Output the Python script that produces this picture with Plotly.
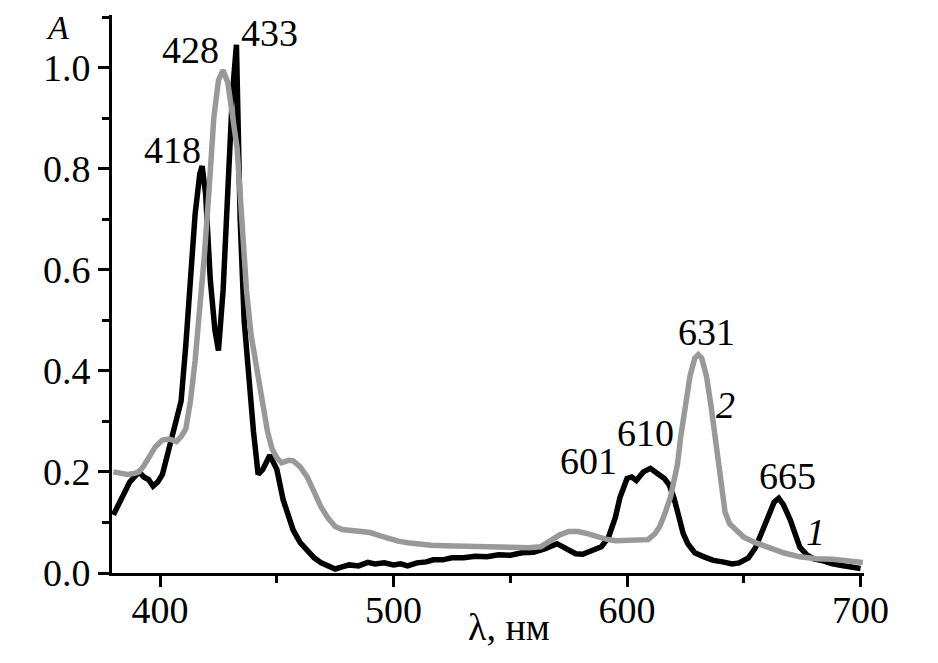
import plotly.graph_objects as go

# Curve 1 (black)
lam1 = [380, 382, 384, 387, 389, 391, 393, 395, 397, 399, 401, 403, 405, 407, 409, 411, 413, 415, 417, 418,
        419.5, 421.5, 423.5, 425, 427, 429, 431, 432.7, 434.3, 436, 438, 440, 442, 444, 447, 450, 452.7, 455,
        457, 460, 463, 466, 469, 472, 475, 478, 481, 485, 489, 492, 496, 500, 503, 506, 510, 514, 517, 521,
        525, 530, 535, 540, 545, 550, 555, 560, 565, 570, 574, 578, 581, 585, 589, 592, 595, 597, 600, 602,
        604, 607, 610, 613, 616, 618, 620, 622, 624, 626, 629, 633, 637, 641, 645, 648, 652, 655, 658, 661,
        663, 665, 667, 670, 672, 674, 677, 680, 684, 688, 692, 696, 700]
a1 = [0.115, 0.135, 0.15, 0.18, 0.19, 0.2, 0.19, 0.185, 0.172, 0.18, 0.195, 0.23, 0.265, 0.305, 0.34, 0.45,
      0.57, 0.71, 0.79, 0.805, 0.75, 0.58, 0.48, 0.44, 0.56, 0.75, 0.95, 1.045, 0.7, 0.5, 0.38, 0.28, 0.195,
      0.205, 0.233, 0.205, 0.145, 0.11, 0.085, 0.06, 0.045, 0.03, 0.02, 0.014, 0.008, 0.012, 0.016, 0.014,
      0.021, 0.018, 0.02, 0.016, 0.018, 0.014, 0.02, 0.022, 0.026, 0.026, 0.03, 0.03, 0.033, 0.032, 0.036,
      0.035, 0.04, 0.041, 0.048, 0.058, 0.048, 0.038, 0.037, 0.045, 0.052, 0.07, 0.11, 0.15, 0.187, 0.19,
      0.183, 0.2, 0.207, 0.197, 0.187, 0.175, 0.15, 0.115, 0.079, 0.058, 0.04, 0.032, 0.025, 0.022, 0.018,
      0.02, 0.03, 0.05, 0.085, 0.12, 0.14, 0.148, 0.135, 0.104, 0.075, 0.051, 0.036, 0.028, 0.024, 0.018,
      0.015, 0.012, 0.009]

# Curve 2 (grey)
lam2 = [380, 383, 386, 389, 391, 393, 396, 398, 401, 404, 407, 409, 411, 413, 415, 417, 419, 421, 423, 425,
        427, 429, 431, 433, 435, 437, 439, 441.5, 444, 446, 448, 450, 452, 455, 457, 460, 463, 466, 469, 472,
        475, 478, 482, 486, 490, 494, 498, 502, 506, 510, 516, 522, 530, 540, 550, 558, 563, 567, 571, 575,
        579, 583, 587, 591, 595, 600, 605, 609, 612, 614, 616, 618.6, 620, 621.6, 623, 625, 627, 629, 630.5,
        632, 634, 636, 638, 640, 642, 644, 647, 650, 655, 660, 667, 674, 681, 688, 695, 701]
a2 = [0.2, 0.197, 0.195, 0.197, 0.2, 0.212, 0.237, 0.25, 0.263, 0.265, 0.26, 0.27, 0.285, 0.34, 0.42, 0.52,
      0.63, 0.76, 0.9, 0.975, 0.995, 0.97, 0.91, 0.84, 0.7, 0.56, 0.47, 0.4, 0.33, 0.28, 0.245, 0.228, 0.218,
      0.223, 0.222, 0.21, 0.19, 0.16, 0.13, 0.108, 0.092, 0.086, 0.084, 0.083, 0.08, 0.074, 0.068, 0.063,
      0.06, 0.057, 0.055, 0.054, 0.053, 0.052, 0.051, 0.05, 0.052, 0.063, 0.075, 0.082, 0.082, 0.078, 0.072,
      0.067, 0.064, 0.064, 0.064, 0.066, 0.078, 0.092, 0.115, 0.15, 0.18, 0.215, 0.27, 0.34, 0.39, 0.425,
      0.432, 0.425, 0.39, 0.33, 0.26, 0.18, 0.12, 0.097, 0.082, 0.071, 0.06, 0.051, 0.04, 0.032, 0.028,
      0.027, 0.024, 0.021]

# Peak labels
peak_labels = ["418", "428", "433", "601", "610", "631", "665"]
curve_labels = ["1", "2"]

FONT = "Liberation Serif, Times New Roman, serif"

fig = go.Figure()
fig.add_trace(go.Scatter(x=lam1, y=a1, mode="lines", line=dict(color="black", width=5.5), showlegend=False))
fig.add_trace(go.Scatter(x=lam2, y=a2, mode="lines", line=dict(color="#999999", width=5.5), showlegend=False))

label_pos = {
    "418": (405.1, 0.837),
    "428": (412.9, 1.035),
    "433": (446.7, 1.069),
    "601": (583.5, 0.221),
    "610": (607.9, 0.277),
    "631": (634.0, 0.477),
    "665": (668.7, 0.191),
}
ann = []
for lab in peak_labels:
    x, y = label_pos[lab]
    ann.append(dict(x=x, y=y, text=lab, showarrow=False, xref="x", yref="y",
                    xanchor="center", yanchor="middle",
                    font=dict(family=FONT, size=38, color="black")))
curve_pos = {"1": (680.7, 0.081), "2": (642.2, 0.332)}
for lab in curve_labels:
    x, y = curve_pos[lab]
    ann.append(dict(x=x, y=y, text="<i>" + lab + "</i>", showarrow=False, xref="x", yref="y",
                    xanchor="center", yanchor="middle",
                    font=dict(family=FONT, size=38, color="black")))
ann.append(dict(x=-0.0731, y=0.977, text="<i>A</i>", showarrow=False, xref="paper", yref="paper",
                xanchor="center", yanchor="middle",
                font=dict(family=FONT, size=34, color="black")))
ann.append(dict(x=0.528, y=-0.0968, text="λ, нм", showarrow=False, xref="paper", yref="paper",
                xanchor="center", yanchor="middle",
                font=dict(family=FONT, size=38, color="black")))

# page body has an 8 px margin; compensate so the plot area lands where the reference has it
fig.update_layout(
    width=930, height=655,
    margin=dict(l=104, r=74, t=7, b=90, autoexpand=False),
    plot_bgcolor="white", paper_bgcolor="white",
    font=dict(family=FONT, size=38, color="black"),
    annotations=ann,
)
fig.update_xaxes(
    range=[379.4, 701.5], showgrid=False, zeroline=False,
    showline=True, linecolor="black", linewidth=3,
    ticks="outside", ticklen=11, tickwidth=3, tickcolor="black",
    tick0=0, dtick=100, ticklabelstandoff=-10,
    minor=dict(ticks="outside", ticklen=7, tickwidth=3, tickcolor="black", dtick=50),
    tickfont=dict(family=FONT, size=38, color="black"),
)
fig.update_yaxes(
    range=[0, 1.104], showgrid=False, zeroline=False,
    showline=True, linecolor="black", linewidth=3,
    ticks="outside", ticklen=11, tickwidth=3, tickcolor="black",
    tick0=0, dtick=0.2, tickformat=".1f",
    minor=dict(ticks="outside", ticklen=7, tickwidth=3, tickcolor="black", dtick=0.1),
    tickfont=dict(family=FONT, size=38, color="black"),
)

fig.write_html("out.html")
